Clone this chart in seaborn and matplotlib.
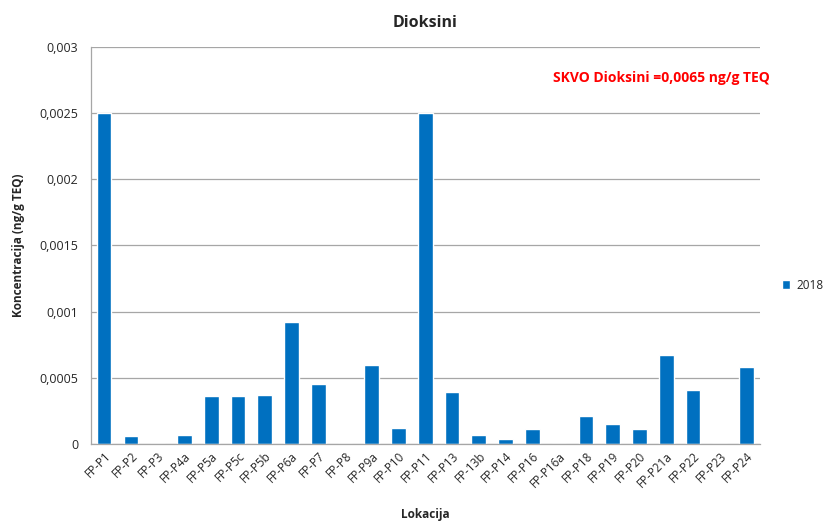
import matplotlib
matplotlib.use("Agg")
import matplotlib.pyplot as plt
import matplotlib.ticker as mticker
import numpy as np
import pandas as pd
import seaborn as sns

# podaci
lokacije = ['FP-P1', 'FP-P2', 'FP-P3', 'FP-P4a', 'FP-P5a', 'FP-P5c', 'FP-P5b', 'FP-P6a',
            'FP-P7', 'FP-P8', 'FP-P9a', 'FP-P10', 'FP-P11', 'FP-P13', 'FP-13b', 'FP-P14',
            'FP-P16', 'FP-P16a', 'FP-P18', 'FP-P19', 'FP-P20', 'FP-P21a', 'FP-P22',
            'FP-P23', 'FP-P24']
vrijednosti_2018 = [0.0025, 0.00006, 0.0, 0.00007, 0.00036, 0.00036, 0.00037, 0.00092,
                    0.00045, 0.0, 0.0006, 0.00012, 0.0025, 0.00039, 0.00007, 0.00004,
                    0.00011, 0.0, 0.00021, 0.00015, 0.00011, 0.00067, 0.00041,
                    0.0, 0.00058]
y_ticks = [0, 0.0005, 0.001, 0.0015, 0.002, 0.0025, 0.003]

df = pd.DataFrame({'Lokacija': lokacije, 'Koncentracija': vrijednosti_2018, 'Godina': '2018'})

sns.set_style("white")
plt.rcParams['font.family'] = ['Open Sans', 'DejaVu Sans']

fig = plt.figure(figsize=(8.25, 5.22), dpi=100)
ax = fig.add_axes([0.110, 0.1494, 0.811, 0.761])

sns.barplot(data=df, x='Lokacija', y='Koncentracija', hue='Godina',
            palette=['#0070C0'], saturation=1, width=0.55, ax=ax, legend=True)

ax.set_ylim(0, 0.003)
ax.set_xlim(-0.5, len(lokacije) - 0.5)
ax.set_yticks(y_ticks)
ax.yaxis.set_major_formatter(mticker.FuncFormatter(
    lambda v, p: '0' if v == 0 else f"{v:.4f}".rstrip('0').replace('.', ',')))
ax.yaxis.grid(True, color='#A6A6A6', linewidth=0.9)
ax.set_axisbelow(True)

for s in ['top', 'right']:
    ax.spines[s].set_visible(False)
for s in ['left', 'bottom']:
    ax.spines[s].set_color('#A6A6A6')
    ax.spines[s].set_linewidth(0.9)

# crtice između kategorija
ax.set_xticks(np.arange(len(lokacije) + 1) - 0.5, minor=True)
ax.tick_params(axis='x', which='minor', length=5, color='#A6A6A6', direction='out')
ax.tick_params(axis='x', which='major', length=0, pad=4)
ax.tick_params(axis='y', which='major', length=5, color='#A6A6A6', direction='out',
               labelsize=9, pad=4)
ax.set_xticks(range(len(lokacije)))
ax.set_xticklabels(lokacije, rotation=45, ha='right', rotation_mode='anchor', fontsize=8.5)

ax.set_xlabel('Lokacija', fontsize=8.5, fontweight='bold')
ax.set_ylabel('Koncentracija (ng/g TEQ)', fontsize=8.5, fontweight='bold')
ax.xaxis.set_label_coords(0.5, -0.16)
ax.yaxis.set_label_coords(-0.098, 0.5)
ax.set_title('Dioksini', fontsize=11.5, fontweight='bold', pad=14)

ax.text(0.853, 0.922, 'SKVO Dioksini =0,0065 ng/g TEQ', transform=ax.transAxes,
        color='#FF0000', fontsize=10, fontweight='bold', ha='center', va='center')

ax.legend(loc='center left', bbox_to_anchor=(1.021, 0.4), frameon=False,
          fontsize=8.5, handlelength=0.7, handleheight=0.7, handletextpad=0.5,
          borderaxespad=0.3)

fig.savefig('out.png', dpi=100)
